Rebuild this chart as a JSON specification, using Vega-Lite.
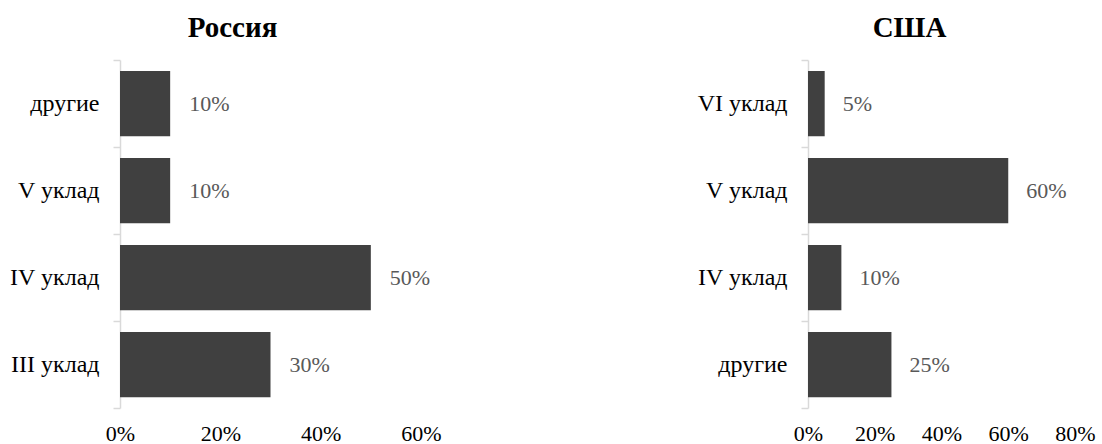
{
  "$schema": "https://vega.github.io/schema/vega-lite/v6.json",
  "padding": {"left": 9, "top": 14, "right": 5, "bottom": 0},
  "background": "white",
  "spacing": 255,
  "config": {
    "view": {"stroke": null},
    "font": "Liberation Serif",
    "title": {"font": "Liberation Serif", "fontSize": 29, "fontWeight": "bold", "color": "black", "offset": 5},
    "axisX": {"domain": false, "ticks": false, "grid": false, "labelFont": "Liberation Serif", "labelFontSize": 22, "labelColor": "black", "labelPadding": 15, "labelFlush": false, "title": null},
    "axisY": {"domainColor": "#d9d9d9", "domainWidth": 1.5, "tickColor": "#d9d9d9", "tickWidth": 1.5, "tickSize": 7, "tickBand": "extent", "grid": false, "labelFont": "Liberation Serif", "labelFontSize": 24, "labelColor": "black", "labelPadding": 14, "title": null},
    "scale": {"bandPaddingInner": 0, "bandPaddingOuter": 0}
  },
  "hconcat": [
    {
      "title": {"text": "Россия", "dx": -38},
      "width": 301,
      "height": 348,
      "data": {"values": [
        {"category": "другие", "value": 0.10},
        {"category": "V уклад", "value": 0.10},
        {"category": "IV уклад", "value": 0.50},
        {"category": "III уклад", "value": 0.30}
      ]},
      "encoding": {
        "y": {"field": "category", "type": "nominal", "sort": null, "axis": {}},
        "x": {"field": "value", "type": "quantitative", "scale": {"domain": [0, 0.6], "nice": false}, "axis": {"values": [0, 0.2, 0.4, 0.6], "format": ".0%"}}
      },
      "layer": [
        {"mark": {"type": "bar", "color": "#404040", "height": {"band": 0.75}}},
        {"mark": {"type": "text", "align": "left", "baseline": "middle", "dx": 19, "font": "Liberation Serif", "fontSize": 22, "color": "#595959"}, "encoding": {"text": {"field": "value", "type": "quantitative", "format": ".0%"}}}
      ]
    },
    {
      "title": {"text": "США", "dx": -32},
      "width": 267,
      "height": 348,
      "data": {"values": [
        {"category": "VI уклад", "value": 0.05},
        {"category": "V уклад", "value": 0.60},
        {"category": "IV уклад", "value": 0.10},
        {"category": "другие", "value": 0.25}
      ]},
      "encoding": {
        "y": {"field": "category", "type": "nominal", "sort": null, "axis": {}},
        "x": {"field": "value", "type": "quantitative", "scale": {"domain": [0, 0.8], "nice": false}, "axis": {"values": [0, 0.2, 0.4, 0.6, 0.8], "format": ".0%"}}
      },
      "layer": [
        {"mark": {"type": "bar", "color": "#404040", "height": {"band": 0.75}}},
        {"mark": {"type": "text", "align": "left", "baseline": "middle", "dx": 18, "font": "Liberation Serif", "fontSize": 22, "color": "#595959"}, "encoding": {"text": {"field": "value", "type": "quantitative", "format": ".0%"}}}
      ]
    }
  ]
}
